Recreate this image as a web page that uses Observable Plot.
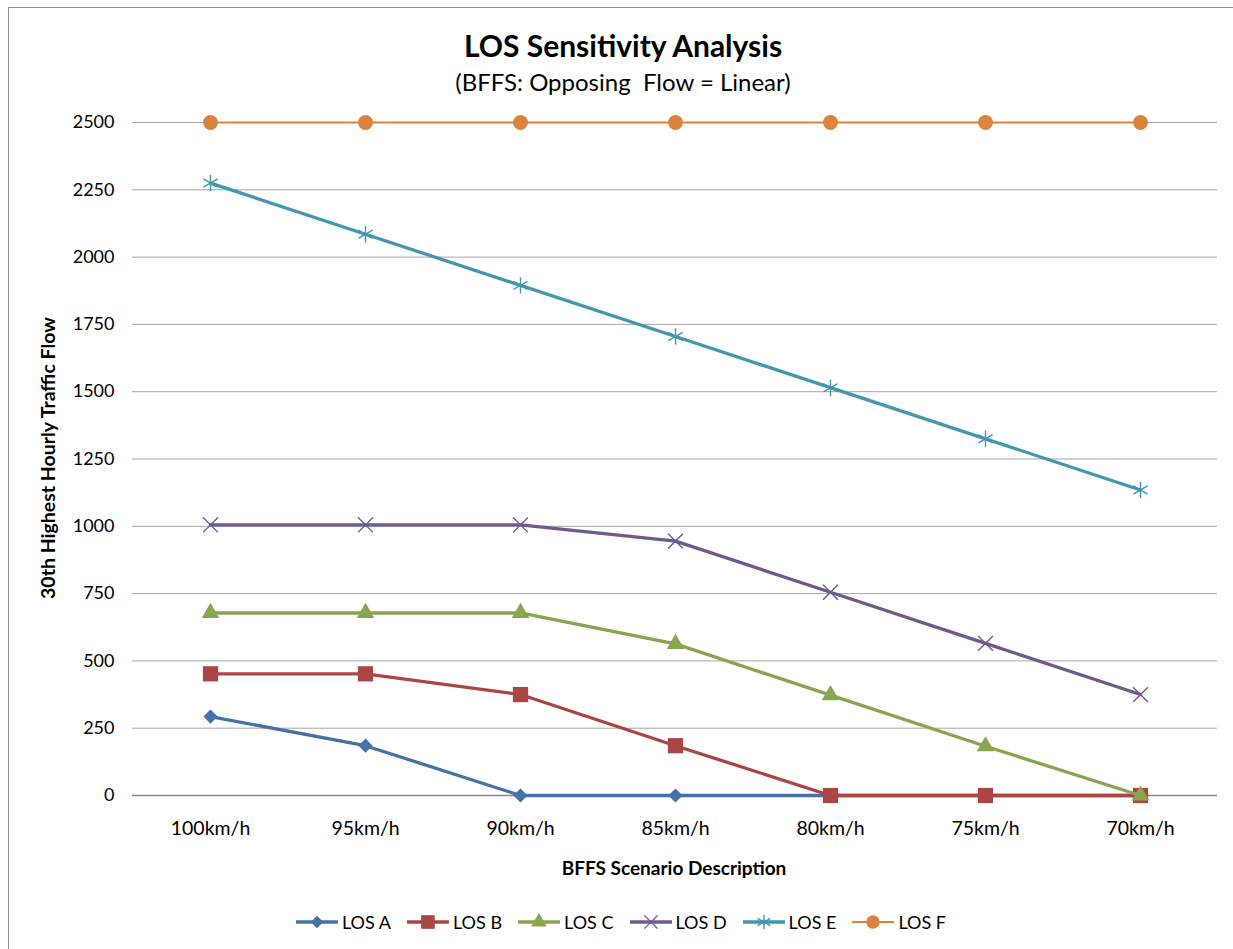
<!DOCTYPE html>
<html>
<head>
<meta charset="utf-8">
<script src="https://cdn.jsdelivr.net/npm/d3@7"></script>
<script src="https://cdn.jsdelivr.net/npm/@observablehq/plot@0.6"></script>
<style>
  body { margin: 0; background: #fff; }
  #wrap { position: relative; width: 1233px; height: 949px; overflow: hidden; font-family: Lato, "Open Sans", sans-serif; color: #000; }
  #frame { position: absolute; left: 8px; top: 7px; width: 1300px; height: 1000px; border-left: 1.5px solid #8c8c8c; border-top: 1.5px solid #8c8c8c; box-sizing: border-box; }
  .center { position: absolute; left: 8px; width: 1230px; text-align: center; white-space: pre; }
  #title { top: 27px; font-size: 30px; line-height: 36px; font-weight: bold; }
  #subtitle { top: 67px; font-size: 24px; line-height: 30px; }
  #chart { position: absolute; left: 0; top: 100px; }
  #ytitle { position: absolute; left: 47px; top: 458px; transform: translate(-50%, -50%) rotate(-90deg); font-size: 19.5px; font-weight: bold; white-space: nowrap; }
  #xtitle { position: absolute; left: 674px; top: 867px; transform: translate(-50%, -50%); font-size: 19px; font-weight: bold; white-space: nowrap; }
  #legend { position: absolute; left: 621px; top: 922px; transform: translate(-50%, -50%); display: flex; align-items: center; gap: 16px; font-size: 18px; white-space: nowrap; }
  .item { display: flex; align-items: center; gap: 4px; }
</style>
</head>
<body>
<div id="wrap">
  <div id="frame"></div>
  <div id="title" class="center">LOS Sensitivity Analysis</div>
  <div id="subtitle" class="center">(BFFS: Opposing  Flow = Linear)</div>
  <div id="chart"></div>
  <div id="ytitle">30th Highest Hourly Traffic Flow</div>
  <div id="xtitle">BFFS Scenario Description</div>
  <div id="legend"></div>
</div>
<script>
// ---- data ----
const categories = ["100km/h", "95km/h", "90km/h", "85km/h", "80km/h", "75km/h", "70km/h"];
const seriesNames = ["LOS A", "LOS B", "LOS C", "LOS D", "LOS E", "LOS F"];
const losA = [293, 185, 0, 0, 0, 0, 0];
const losB = [452, 452, 375, 185, 0, 0, 0];
const losC = [678, 678, 678, 563, 373, 183, 0];
const losD = [1005, 1005, 1005, 945, 755, 565, 375];
const losE = [2275, 2085, 1895, 1705, 1515, 1325, 1135];
const losF = [2500, 2500, 2500, 2500, 2500, 2500, 2500];
const yTicks = [0, 250, 500, 750, 1000, 1250, 1500, 1750, 2000, 2250, 2500];

// ---- styles ----
const seriesValues = [losA, losB, losC, losD, losE, losF];
const colors = ["#4572A7", "#AA4643", "#89A54E", "#71588F", "#4198AF", "#DB843D"];
const symbols = ["diamond2", "square", "triangle", "times", "asterisk", "circle"];
const radii = [6.4, 8.6, 6.5, 6.8, 7.8, 7.5];
const filled = [true, true, true, false, false, true];
const lineWidths = [3.3, 3.3, 3.3, 3.3, 3.3, 2.2];

const rows = [];
seriesNames.forEach((s, i) => {
  categories.forEach((c, j) => rows.push({series: s, idx: i, cat: c, value: seriesValues[i][j]}));
});

const marks = [
  Plot.gridY(yTicks, {stroke: "#a6a6a6", strokeOpacity: 1, strokeWidth: 1}),
  Plot.ruleY([0], {stroke: "#868686", strokeWidth: 1.5}),
  Plot.axisY(yTicks, {tickSize: 0, tickPadding: 18, tickFormat: d3.format("d"), fontSize: 18, label: null}),
  Plot.axisX({tickSize: 0, tickPadding: 26, fontSize: 19.5, label: null})
];
seriesNames.forEach((s, i) => {
  const d = rows.filter(r => r.idx === i);
  marks.push(Plot.line(d, {x: "cat", y: "value", stroke: colors[i], strokeWidth: lineWidths[i], strokeLinejoin: "round"}));
  marks.push(Plot.dot(d, filled[i]
    ? {x: "cat", y: "value", symbol: () => symbols[i], r: radii[i], fill: colors[i], stroke: "none"}
    : {x: "cat", y: "value", symbol: () => symbols[i], r: radii[i], fill: "none", stroke: colors[i], strokeWidth: 1.4}));
});

const chart = Plot.plot({
  width: 1233,
  height: 790,
  marginLeft: 132,
  marginRight: 16,
  marginTop: 22,
  marginBottom: 95,
  style: {fontFamily: "Lato, 'Open Sans', sans-serif", fontSize: "18px", color: "#000", background: "transparent", overflow: "visible"},
  x: {type: "point", domain: categories, padding: 0.5, label: null},
  y: {domain: [0, 2500], label: null},
  symbol: {type: "identity"},
  marks
});
document.getElementById("chart").appendChild(chart);

// ---- legend ----
const legend = d3.select("#legend");
const symMap = {diamond2: d3.symbolDiamond2, square: d3.symbolSquare, triangle: d3.symbolTriangle, times: d3.symbolTimes, asterisk: d3.symbolAsterisk, circle: d3.symbolCircle};
seriesNames.forEach((s, i) => {
  const item = legend.append("div").attr("class", "item");
  const svg = item.append("svg").attr("width", 42).attr("height", 20);
  svg.append("line").attr("x1", 0).attr("x2", 42).attr("y1", 10).attr("y2", 10)
    .attr("stroke", colors[i]).attr("stroke-width", lineWidths[i]);
  const path = d3.symbol(symMap[symbols[i]], Math.PI * radii[i] * radii[i] * 0.8)();
  const p = svg.append("path").attr("d", path).attr("transform", "translate(21,10)");
  if (filled[i]) p.attr("fill", colors[i]);
  else p.attr("fill", "none").attr("stroke", colors[i]).attr("stroke-width", 1.4);
  item.append("span").text(s);
});
</script>
</body>
</html>
